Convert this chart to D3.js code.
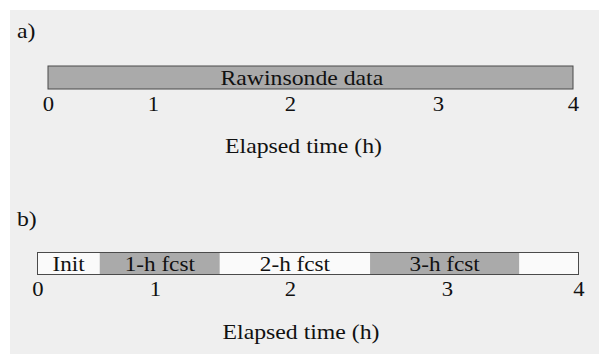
<!DOCTYPE html>
<html>
  <head>
    <script src="https://d3js.org/d3.v7.min.js"></script>
    <style>
      body { margin: 0; background: #fff; }
    </style>
  </head>
  <body>
    <svg width="599" height="354"></svg>
    <script>
      // elapsed time ticks (h)
      var hours = [0, 1, 2, 3, 4];

      // panel a: rawinsonde record
      var rawinLabels = ["Rawinsonde data"],
          rawinStart = [0],
          rawinEnd = [4],
          rawinLabelAt = [2.08];

      // panel b: forecast windows
      var fcstLabels = ["Init", "1-h fcst", "2-h fcst", "3-h fcst", ""],
          fcstBounds = [0, 0.53, 1.48, 2.51, 3.55, 4],
          fcstShaded = [false, true, false, true, false];

      var serif = "Liberation Serif, Times New Roman, serif",
          stretch = 1.08;   // the original lettering is a bit wide

      var svg = d3.select("svg");
      svg.append("rect")
        .attr("x", 10).attr("y", 10)
        .attr("width", 589).attr("height", 344)
        .attr("fill", "#efefef");

      // figure is not drawn to scale, so each panel gets a piecewise scale
      var xa = d3.scaleLinear().domain(hours).range([48, 153, 290, 438, 573]);
      var xb = d3.scaleLinear().domain(hours).range([37.5, 155, 290, 447, 578.5]);

      function label(x, y, size, anchor) {
        return svg.append("text")
          .attr("transform", "translate(" + x + "," + y + ") scale(" + stretch + ",1)")
          .attr("text-anchor", anchor || "start")
          .attr("fill", "#111")
          .style("font-family", serif)
          .style("font-size", size + "px");
      }

      function timeAxis(x, y, titleY) {
        var g = svg.append("g")
          .attr("transform", "translate(0," + y + ")")
          .call(d3.axisBottom(x).tickValues(hours).tickSize(0).tickPadding(7)
            .tickFormat(d3.format("d")));
        g.select(".domain").remove();
        g.selectAll("text")
          .attr("transform", "scale(" + stretch + ",1)")
          .attr("fill", "#111")
          .style("font-family", serif)
          .style("font-size", "21px");
        label((x(0) + x(4)) / 2 - 7, titleY, 22, "middle").text("Elapsed time (h)");
      }

      // panel a
      label(17, 38, 22).text("a)");
      svg.selectAll("rect.rawin")
        .data(rawinLabels)
        .join("rect")
        .attr("class", "rawin")
        .attr("x", function(d, i) { return xa(rawinStart[i]); })
        .attr("width", function(d, i) { return xa(rawinEnd[i]) - xa(rawinStart[i]); })
        .attr("y", 66).attr("height", 23)
        .attr("fill", "#aaaaaa")
        .attr("stroke", "#4a4a4a").attr("stroke-width", 1);
      rawinLabels.forEach(function(d, i) {
        label(xa(rawinLabelAt[i]), 84.5, 22, "middle").text(d);
      });
      timeAxis(xa, 89, 152.5);

      // panel b
      label(17, 226, 22).text("b)");
      svg.selectAll("rect.fcst")
        .data(fcstLabels)
        .join("rect")
        .attr("class", "fcst")
        .attr("x", function(d, i) { return xb(fcstBounds[i]); })
        .attr("width", function(d, i) { return xb(fcstBounds[i + 1]) - xb(fcstBounds[i]); })
        .attr("y", 252.5).attr("height", 22)
        .attr("fill", function(d, i) { return fcstShaded[i] ? "#aaaaaa" : "#fafafa"; })
        .attr("stroke", "none");
      svg.append("rect")
        .attr("x", xb(0)).attr("y", 252.5)
        .attr("width", xb(4) - xb(0)).attr("height", 22)
        .attr("fill", "none")
        .attr("stroke", "#4a4a4a").attr("stroke-width", 1);
      fcstLabels.forEach(function(d, i) {
        if (!d) return;
        var cx = (xb(fcstBounds[i]) + xb(fcstBounds[i + 1])) / 2;
        label(cx, 271, 21.5, "middle").text(d);
      });
      timeAxis(xb, 274, 339);
    </script>
  </body>
</html>
